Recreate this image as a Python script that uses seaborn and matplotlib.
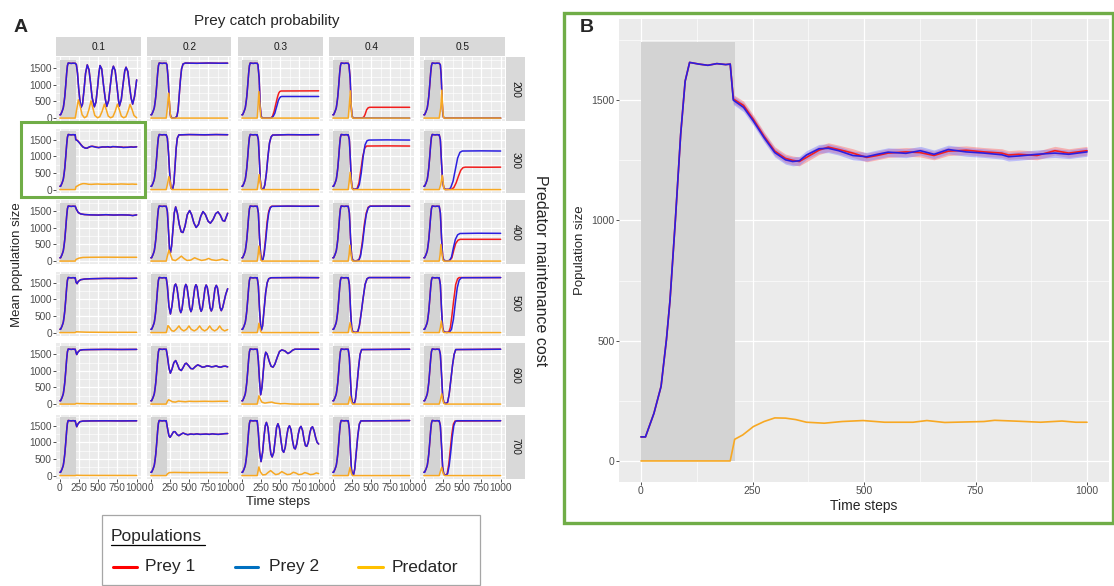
import pandas as pd
import numpy as np
import seaborn as sns
import matplotlib.pyplot as plt
from matplotlib.patches import Rectangle
from matplotlib.lines import Line2D
from matplotlib.ticker import MultipleLocator

sns.set_theme(style="darkgrid")
plt.rcParams["font.family"] = ["Liberation Sans", "DejaVu Sans"]

costs = ["200", "300", "400", "500", "600", "700"]
catches = ["0.1", "0.2", "0.3", "0.4", "0.5"]

# warm-up phase (prey only, predator added at t=200), same for all runs
warm_t = [0, 10, 29, 45, 57, 65, 77, 89, 99, 109, 130, 150, 170, 190, 200]
warm_prey = [100, 100, 198, 310, 504, 667, 1000, 1359, 1579, 1657, 1650, 1645, 1652, 1648, 1650]
warm_pred = [(0, 0), (200, 0)]

# after t=200: (time step, mean population size)
# --- cost 200
p200_1_prey = [(215,1610),(230,1350),(245,900),(260,550),(276,320),(295,420),(315,850),(335,1350),(357,1600),(380,1450),(400,1050),(420,620),(449,340),(470,480),(490,900),(508,1350),(523,1580),(545,1480),(568,1000),(590,600),(610,350),(635,520),(658,1000),(680,1430),(697,1560),(720,1430),(742,1000),(762,560),(775,360),(800,560),(822,1000),(845,1420),(862,1530),(885,1400),(905,1000),(928,600),(948,420),(972,650),(1000,1150)]
p200_1_pred = [(215,200),(241,550),(265,350),(290,100),(320,10),(350,50),(378,250),(406,520),(430,300),(455,80),(490,10),(520,40),(550,200),(580,420),(605,250),(630,60),(660,10),(690,40),(720,200),(749,420),(775,250),(800,60),(830,10),(860,40),(890,220),(914,410),(940,260),(965,80),(1000,10)]
p200_2_prey = [(210,1600),(225,1200),(240,500),(250,150),(260,30),(280,5),(320,10),(340,60),(355,250),(370,700),(385,1150),(400,1480),(420,1630),(450,1655),(600,1648),(750,1656),(900,1650),(1000,1652)]
p200_2_pred = [(215,300),(230,750),(240,600),(250,200),(258,20),(270,0),(1000,0)]
p200_3_prey1 = [(210,1600),(225,1200),(238,400),(250,60),(265,5),(380,5),(400,60),(420,200),(435,350),(450,500),(465,640),(480,750),(495,800),(510,815),(1000,820)]
p200_3_prey2 = [(210,1600),(225,1200),(238,400),(250,60),(265,5),(390,5),(410,60),(430,150),(445,280),(460,400),(475,530),(490,600),(505,640),(520,650),(1000,650)]
p200_3_pred = [(212,400),(222,800),(235,400),(245,50),(255,0),(1000,0)]
p200_4_prey1 = [(210,1600),(225,1200),(238,400),(250,60),(265,5),(385,5),(405,40),(420,110),(440,250),(460,310),(480,325),(1000,325)]
p200_4_prey2 = [(210,1600),(225,1200),(238,400),(250,60),(265,5),(1000,0)]
p200_4_pred = [(215,400),(228,820),(240,300),(250,30),(260,0),(1000,0)]
p200_5_prey = [(215,1600),(225,1300),(235,700),(245,200),(255,30),(270,0),(1000,0)]
p200_5_pred = [(220,300),(234,840),(245,300),(255,30),(265,0),(1000,0)]

# --- cost 300 (0.1 is the run enlarged in panel B)
b_prey1 = [(207,1505),(230,1478),(252,1420),(276,1350),(300,1288),(324,1258),(340,1250),(355,1245),(371,1262),(399,1292),(420,1305),(443,1295),(475,1280),(506,1262),(530,1270),(554,1280),(594,1285),(626,1282),(657,1270),(689,1288),(729,1292),(769,1285),(809,1280),(824,1272),(847,1275),(888,1270),(928,1290),(959,1280),(1000,1290)]
b_prey2 = [(207,1500),(230,1470),(252,1413),(276,1344),(300,1282),(324,1252),(340,1245),(355,1248),(371,1272),(399,1298),(420,1300),(443,1290),(475,1270),(506,1265),(530,1275),(554,1284),(594,1279),(626,1290),(657,1275),(689,1295),(729,1285),(769,1280),(809,1273),(824,1265),(847,1268),(888,1275),(928,1280),(959,1275),(1000,1285)]
b_pred = [(210,90),(228,108),(252,143),(276,164),(300,179),(324,178),(347,172),(371,161),(411,157),(451,164),(498,168),(546,161),(610,161),(641,168),(681,160),(769,164),(793,169),(848,165),(896,161),(944,166),(975,161),(1000,161)]
b_band = 18
p300_2_prey = [(215,1550),(230,1100),(245,500),(258,100),(270,20),(285,30),(300,200),(315,700),(330,1250),(345,1550),(365,1645),(500,1655),(700,1648),(850,1655),(1000,1650)]
p300_2_pred = [(215,150),(235,390),(250,250),(262,50),(275,0),(1000,0)]
p300_3_prey = [(215,1500),(230,800),(240,300),(250,80),(265,10),(285,30),(300,150),(320,500),(340,1000),(360,1400),(380,1580),(400,1640),(600,1652),(800,1648),(1000,1652)]
p300_3_pred = [(213,200),(225,450),(238,250),(250,30),(262,0),(1000,0)]
p300_4_prey1 = [(215,1500),(230,800),(240,300),(250,60),(270,5),(315,30),(340,200),(365,600),(390,1000),(415,1250),(440,1310),(700,1315),(1000,1310)]
p300_4_prey2 = [(215,1500),(230,800),(240,300),(250,60),(270,5),(320,20),(345,150),(370,500),(395,1000),(420,1350),(445,1470),(470,1490),(700,1495),(1000,1490)]
p300_4_pred = [(213,250),(225,520),(238,250),(250,30),(262,0),(1000,0)]
p300_5_prey1 = [(215,1500),(230,800),(245,250),(260,50),(280,5),(360,10),(390,60),(420,200),(450,400),(480,580),(510,660),(540,675),(800,672),(1000,675)]
p300_5_prey2 = [(215,1500),(230,800),(245,250),(260,50),(280,5),(330,10),(350,60),(380,250),(410,600),(440,950),(470,1120),(500,1160),(750,1165),(1000,1160)]
p300_5_pred = [(220,150),(240,430),(252,200),(262,20),(272,0),(1000,0)]

# --- cost 400
p400_1_prey = [(215,1560),(240,1460),(270,1420),(320,1400),(400,1390),(500,1385),(600,1395),(700,1385),(800,1390),(900,1385),(950,1370),(1000,1390)]
p400_1_pred = [(210,50),(250,90),(300,110),(400,115),(600,118),(800,115),(1000,115)]
p400_2_prey = [(215,1500),(230,900),(245,300),(255,250),(270,450),(290,1000),(305,1450),(323,1630),(345,1450),(370,1100),(395,880),(418,860),(445,1050),(475,1400),(505,1520),(530,1400),(560,1150),(590,1010),(620,1100),(650,1350),(679,1490),(710,1400),(745,1200),(775,1140),(810,1250),(845,1430),(874,1480),(905,1380),(935,1220),(961,1200),(1000,1440)]
p400_2_pred = [(215,150),(236,330),(255,200),(280,40),(320,15),(360,80),(397,150),(430,80),(470,20),(520,30),(570,100),(610,60),(660,20),(710,40),(753,80),(790,40),(850,20),(900,40),(931,60),(970,30),(1000,20)]
p400_3_prey1 = [(215,1450),(230,700),(245,200),(258,30),(275,60),(290,260),(310,700),(330,1200),(350,1500),(370,1620),(390,1650),(1000,1650)]
p400_3_prey2 = [(215,1450),(230,700),(245,200),(258,30),(275,50),(290,200),(310,600),(330,1100),(350,1450),(370,1600),(390,1645),(600,1655),(800,1648),(1000,1652)]
p400_3_pred = [(212,200),(222,450),(235,250),(248,30),(260,0),(1000,0)]
p400_4_prey1 = [(215,1450),(230,700),(245,150),(260,20),(300,5),(340,40),(360,200),(385,600),(410,1100),(435,1450),(460,1620),(485,1655),(1000,1655)]
p400_4_prey2 = [(215,1450),(230,700),(245,150),(260,20),(300,5),(340,30),(360,150),(385,500),(410,1000),(435,1400),(460,1600),(485,1650),(700,1655),(1000,1650)]
p400_4_pred = [(212,200),(222,480),(235,250),(248,30),(260,0),(1000,0)]
p400_5_prey1 = [(215,1450),(230,700),(245,150),(260,20),(300,5),(335,15),(365,100),(390,330),(415,530),(445,630),(475,655),(1000,655)]
p400_5_prey2 = [(215,1450),(230,700),(245,150),(260,20),(300,5),(335,20),(360,120),(385,400),(410,650),(440,790),(470,830),(700,838),(1000,835)]
p400_5_pred = [(212,200),(222,500),(235,250),(248,30),(260,0),(1000,0)]

# --- cost 500
p500_1_prey = [(210,1520),(225,1470),(240,1540),(270,1590),(320,1610),(400,1620),(500,1625),(600,1630),(700,1628),(800,1632),(900,1630),(1000,1635)]
p500_1_pred = [(215,25),(250,20),(350,12),(600,8),(1000,8)]
p500_2_prey = [(215,1400),(235,800),(255,560),(275,800),(295,1200),(310,1420),(323,1460),(340,1350),(360,1000),(375,700),(390,600),(405,700),(425,1050),(440,1350),(455,1450),(470,1380),(490,1050),(505,750),(522,630),(537,720),(555,1050),(572,1350),(587,1440),(602,1370),(620,1050),(640,740),(655,640),(670,720),(690,1050),(705,1330),(720,1430),(735,1360),(755,1050),(770,750),(787,650),(802,730),(820,1050),(835,1330),(852,1420),(867,1350),(885,1050),(900,760),(917,660),(935,750),(955,950),(975,1150),(1000,1320)]
p500_2_pred = [(210,80),(223,210),(245,150),(270,60),(300,40),(330,100),(366,200),(395,100),(430,50),(465,100),(496,200),(525,100),(565,50),(600,100),(635,200),(665,100),(700,50),(735,100),(766,200),(795,100),(830,50),(865,100),(896,200),(925,100),(960,50),(1000,90)]
p500_3_prey = [(215,1400),(230,700),(245,200),(255,80),(270,200),(290,700),(310,1200),(330,1500),(350,1620),(380,1650),(700,1655),(1000,1652)]
p500_3_pred = [(212,120),(222,280),(235,150),(248,20),(260,0),(1000,0)]
p500_4_prey = [(215,1450),(230,700),(245,150),(260,20),(300,5),(325,30),(345,200),(370,600),(395,1050),(420,1450),(445,1620),(470,1655),(1000,1655)]
p500_4_pred = [(212,150),(225,300),(238,150),(250,20),(262,0),(1000,0)]
p500_5_prey1 = [(215,1450),(230,700),(245,150),(260,20),(300,5),(325,20),(345,150),(365,500),(390,1000),(415,1450),(440,1620),(460,1655),(1000,1655)]
p500_5_prey2 = [(215,1450),(230,700),(245,150),(260,20),(300,5),(335,15),(360,100),(385,400),(410,900),(435,1350),(460,1580),(490,1650),(1000,1655)]
p500_5_pred = [(215,150),(228,350),(240,150),(252,20),(265,0),(1000,0)]

# --- cost 600
p600_1_prey = [(210,1560),(220,1490),(235,1560),(260,1620),(300,1635),(400,1640),(600,1645),(800,1642),(1000,1645)]
p600_1_pred = [(215,20),(250,15),(400,8),(1000,5)]
p600_2_prey = [(215,1450),(235,1100),(254,930),(275,1050),(300,1250),(323,1310),(345,1200),(370,1050),(397,1010),(420,1100),(445,1210),(462,1230),(490,1160),(520,1070),(549,1060),(580,1130),(610,1180),(640,1150),(670,1110),(700,1120),(730,1150),(760,1140),(790,1120),(820,1130),(850,1150),(880,1120),(910,1110),(940,1135),(970,1140),(1000,1120)]
p600_2_pred = [(215,80),(230,130),(250,110),(280,70),(320,60),(360,90),(400,80),(450,70),(500,85),(550,80),(600,80),(700,85),(800,80),(900,85),(1000,85)]
p600_3_prey = [(215,1300),(230,700),(245,280),(262,500),(280,1000),(296,1400),(311,1560),(330,1500),(355,1300),(380,1140),(406,1110),(430,1200),(460,1400),(490,1580),(520,1630),(560,1600),(600,1520),(630,1560),(660,1620),(690,1650),(1000,1650)]
p600_3_pred = [(210,100),(222,250),(240,150),(260,60),(300,30),(350,50),(390,60),(430,30),(500,10),(560,15),(620,5),(700,0),(1000,0)]
p600_4_prey = [(215,1400),(230,700),(242,200),(255,40),(280,20),(295,150),(315,600),(335,1100),(355,1500),(375,1640),(1000,1650)]
p600_4_pred = [(212,120),(225,230),(240,80),(255,0),(1000,0)]
p600_5_prey = [(215,1500),(230,900),(245,250),(260,50),(290,10),(310,60),(330,300),(350,700),(375,1200),(395,1500),(415,1640),(1000,1650)]
p600_5_pred = [(215,120),(233,310),(245,150),(260,20),(275,0),(1000,0)]

# --- cost 700
p700_1_prey = [(210,1550),(220,1470),(235,1550),(260,1620),(300,1640),(400,1645),(600,1648),(800,1645),(1000,1648)]
p700_1_pred = [(215,10),(300,5),(1000,3)]
p700_2_prey = [(215,1450),(235,1200),(250,1150),(270,1220),(295,1320),(315,1320),(340,1240),(365,1200),(390,1240),(420,1280),(450,1250),(480,1230),(520,1250),(560,1240),(600,1255),(640,1240),(680,1245),(720,1250),(760,1240),(800,1255),(840,1245),(880,1240),(920,1250),(960,1260),(1000,1265)]
p700_2_pred = [(215,50),(240,90),(300,95),(500,90),(800,92),(1000,90)]
p700_3_prey = [(215,1300),(232,700),(250,420),(270,700),(290,1200),(305,1500),(320,1600),(340,1450),(360,1000),(378,650),(395,560),(415,700),(435,1100),(452,1450),(470,1560),(490,1420),(510,1050),(528,760),(545,700),(565,850),(585,1200),(602,1420),(620,1500),(640,1380),(660,1050),(678,840),(695,800),(715,950),(735,1250),(752,1420),(770,1480),(790,1360),(810,1080),(828,900),(845,880),(865,1000),(885,1280),(902,1430),(920,1470),(940,1350),(960,1150),(980,1000),(1000,950)]
p700_3_pred = [(210,120),(222,260),(240,120),(270,20),(310,30),(345,100),(375,150),(405,90),(440,30),(480,50),(520,120),(550,80),(590,30),(630,40),(670,100),(700,80),(740,30),(780,40),(820,90),(850,70),(890,30),(930,40),(970,80),(1000,60)]
p700_4_prey = [(215,1400),(230,700),(242,200),(255,40),(270,30),(285,200),(305,700),(325,1200),(345,1550),(365,1645),(1000,1655)]
p700_4_pred = [(212,120),(225,250),(240,80),(255,0),(1000,0)]
p700_5_prey1 = [(215,1500),(230,900),(245,250),(260,40),(290,10),(305,70),(325,350),(345,800),(365,1250),(385,1550),(405,1640),(1000,1650)]
p700_5_prey2 = [(215,1500),(230,900),(245,250),(260,40),(290,10),(310,60),(330,300),(350,700),(370,1150),(390,1500),(410,1630),(430,1650),(1000,1650)]
p700_5_pred = [(215,120),(233,250),(245,120),(260,20),(275,0),(1000,0)]

# (prey 1, prey 2, predator) for each facet
panels = {
    ("200","0.1"): (p200_1_prey, p200_1_prey, p200_1_pred),
    ("200","0.2"): (p200_2_prey, p200_2_prey, p200_2_pred),
    ("200","0.3"): (p200_3_prey1, p200_3_prey2, p200_3_pred),
    ("200","0.4"): (p200_4_prey1, p200_4_prey2, p200_4_pred),
    ("200","0.5"): (p200_5_prey, p200_5_prey, p200_5_pred),
    ("300","0.1"): (b_prey1, b_prey2, b_pred),
    ("300","0.2"): (p300_2_prey, p300_2_prey, p300_2_pred),
    ("300","0.3"): (p300_3_prey, p300_3_prey, p300_3_pred),
    ("300","0.4"): (p300_4_prey1, p300_4_prey2, p300_4_pred),
    ("300","0.5"): (p300_5_prey1, p300_5_prey2, p300_5_pred),
    ("400","0.1"): (p400_1_prey, p400_1_prey, p400_1_pred),
    ("400","0.2"): (p400_2_prey, p400_2_prey, p400_2_pred),
    ("400","0.3"): (p400_3_prey1, p400_3_prey2, p400_3_pred),
    ("400","0.4"): (p400_4_prey1, p400_4_prey2, p400_4_pred),
    ("400","0.5"): (p400_5_prey1, p400_5_prey2, p400_5_pred),
    ("500","0.1"): (p500_1_prey, p500_1_prey, p500_1_pred),
    ("500","0.2"): (p500_2_prey, p500_2_prey, p500_2_pred),
    ("500","0.3"): (p500_3_prey, p500_3_prey, p500_3_pred),
    ("500","0.4"): (p500_4_prey, p500_4_prey, p500_4_pred),
    ("500","0.5"): (p500_5_prey1, p500_5_prey2, p500_5_pred),
    ("600","0.1"): (p600_1_prey, p600_1_prey, p600_1_pred),
    ("600","0.2"): (p600_2_prey, p600_2_prey, p600_2_pred),
    ("600","0.3"): (p600_3_prey, p600_3_prey, p600_3_pred),
    ("600","0.4"): (p600_4_prey, p600_4_prey, p600_4_pred),
    ("600","0.5"): (p600_5_prey, p600_5_prey, p600_5_pred),
    ("700","0.1"): (p700_1_prey, p700_1_prey, p700_1_pred),
    ("700","0.2"): (p700_2_prey, p700_2_prey, p700_2_pred),
    ("700","0.3"): (p700_3_prey, p700_3_prey, p700_3_pred),
    ("700","0.4"): (p700_4_prey, p700_4_prey, p700_4_pred),
    ("700","0.5"): (p700_5_prey1, p700_5_prey2, p700_5_pred),
}

pops = ["Prey 1", "Prey 2", "Predator"]
line_col = {"Prey 1": "#f21d1d", "Prey 2": "#2b1fe0", "Predator": "#f7a823"}
legend_col = ["#ff0000", "#0070c0", "#ffc000"]

warm_prey_pts = list(zip(warm_t, warm_prey))


def build(prey1, prey2, pred):
    rows = []
    for name, pts, warm in zip(pops, (prey1, prey2, pred), (warm_prey_pts, warm_prey_pts, warm_pred)):
        for t, n in warm + pts:
            rows.append((name, t, n))
    return pd.DataFrame(rows, columns=["pop", "t", "n"])


W, H = 1114, 586


def rect(x, y, w, h):
    return [x / W, 1 - (y + h) / H, w / W, h / H]


def gg_axes(ax, fs):
    ax.set_facecolor("#ebebeb")
    for s in ax.spines.values():
        s.set_visible(False)
    ax.set_xlim(-50, 1050)
    ax.set_ylim(-87.5, 1837.5)
    ax.set_xticks([0, 250, 500, 750, 1000])
    ax.set_yticks([0, 500, 1000, 1500])
    ax.xaxis.set_minor_locator(MultipleLocator(125))
    ax.yaxis.set_minor_locator(MultipleLocator(250))
    ax.grid(which="major", color="white", lw=0.9)
    ax.grid(which="minor", color="white", lw=0.45)
    ax.set_axisbelow(True)
    ax.tick_params(which="major", length=2, width=0.6, color="#333333",
                   labelsize=fs, labelcolor="#4d4d4d", pad=1,
                   bottom=True, left=True)
    ax.tick_params(which="minor", length=0)
    ax.set_xlabel("")
    ax.set_ylabel("")


fig = plt.figure(figsize=(W / 100, H / 100), dpi=100)

# ---- panel A: facet grid
for j, cost in enumerate(costs):
    for i, pc in enumerate(catches):
        ax = fig.add_axes(rect(56 + 91 * i, 57 + 71.5 * j, 84.5, 64))
        gg_axes(ax, 7.3)
        ax.add_patch(Rectangle((0, 0), 210, 1750, color="#d3d3d3", lw=0, zorder=1))
        df = build(*panels[(cost, pc)])
        sns.lineplot(data=df, x="t", y="n", hue="pop", hue_order=pops,
                     palette=line_col, lw=1.1, errorbar=None, legend=False, ax=ax)
        ax.set_xlabel("")
        ax.set_ylabel("")
        ax.set_xticklabels(["0", "250", "500", "750", "1000"] if j == 5 else [])
        ax.set_yticklabels(["0", "500", "1000", "1500"] if i == 0 else [])
        if j != 5:
            ax.tick_params(axis="x", length=0)
        if i != 0:
            ax.tick_params(axis="y", length=0)

# strips
for i, pc in enumerate(catches):
    sx = fig.add_axes(rect(56 + 91 * i, 37, 84.5, 19))
    sx.set_facecolor("#d9d9d9")
    sx.set_xticks([]); sx.set_yticks([]); sx.grid(False)
    for s in sx.spines.values():
        s.set_visible(False)
    sx.text(0.5, 0.5, pc, ha="center", va="center", fontsize=7.3, color="#1a1a1a", transform=sx.transAxes)
for j, cost in enumerate(costs):
    sy = fig.add_axes(rect(506, 57 + 71.5 * j, 19, 64))
    sy.set_facecolor("#d9d9d9")
    sy.set_xticks([]); sy.set_yticks([]); sy.grid(False)
    for s in sy.spines.values():
        s.set_visible(False)
    sy.text(0.5, 0.5, cost, ha="center", va="center", rotation=-90, fontsize=7.3, color="#1a1a1a", transform=sy.transAxes)

fig.text(14 / W, 1 - 27 / H, "A", fontsize=14, fontweight="bold", va="center")
fig.text(267 / W, 1 - 21 / H, "Prey catch probability", fontsize=11, ha="center", va="center")
fig.text(540 / W, 1 - 271 / H, "Predator maintenance cost", fontsize=11.5, rotation=-90, ha="center", va="center")
fig.text(17 / W, 1 - 265 / H, "Mean population size", fontsize=9.5, rotation=90, ha="center", va="center")
fig.text(278 / W, 1 - 502 / H, "Time steps", fontsize=9.5, ha="center", va="center")

# green box around the enlarged run
fig.add_artist(Rectangle((20.7 / W, 1 - 196.7 / H), 124.3 / W, 74.4 / H, transform=fig.transFigure,
                         fill=False, ec="#70ad47", lw=2.2))

# ---- legend box
fig.add_artist(Rectangle((101.7 / W, 1 - 585 / H), 378.3 / W, 70 / H, transform=fig.transFigure,
                         fill=False, ec="#a6a6a6", lw=0.9))
fig.text(110.7 / W, 1 - 541 / H, "Populations", fontsize=12.5, va="baseline")
fig.add_artist(Line2D([110.7 / W, 205 / W], [1 - 544.5 / H, 1 - 544.5 / H], transform=fig.transFigure,
                      color="black", lw=0.9))
for (x0, x1, xt), name, c in zip([(113, 137, 145), (235, 258, 269), (358, 383, 392)], pops, legend_col):
    fig.add_artist(Line2D([x0 / W, x1 / W], [1 - 567 / H, 1 - 567 / H], transform=fig.transFigure,
                          color=c, lw=2.2))
    fig.text(xt / W, 1 - 567 / H, name, fontsize=12.5, va="center")

# ---- panel B: enlarged run (cost 300, catch 0.1)
axb = fig.add_axes(rect(618.7, 19, 490.6, 463))
gg_axes(axb, 7.5)
axb.add_patch(Rectangle((0, 0), 210, 1740, color="#d3d3d3", lw=0, zorder=1))
dfb = build(b_prey1, b_prey2, b_pred)
for name, c in (("Prey 1", "#ff6b6b"), ("Prey 2", "#7b7bff")):
    sub = dfb[(dfb["pop"] == name) & (dfb["t"] >= 200)]
    axb.fill_between(sub["t"], sub["n"] - b_band, sub["n"] + b_band, color=c, alpha=0.45, lw=0, zorder=2)
sns.lineplot(data=dfb, x="t", y="n", hue="pop", hue_order=pops,
             palette=line_col, lw=1.2, errorbar=None, legend=False, ax=axb)
axb.set_xticklabels(["0", "250", "500", "750", "1000"])
axb.set_yticklabels(["0", "500", "1000", "1500"])
axb.set_xlabel("Time steps", fontsize=10, labelpad=2)
axb.set_ylabel("Population size", fontsize=9.5, labelpad=4)

fig.text(580 / W, 1 - 27 / H, "B", fontsize=14, fontweight="bold", va="center")
fig.add_artist(Rectangle((564 / W, 1 - 523 / H), 549 / W, 510 / H, transform=fig.transFigure,
                         fill=False, ec="#70ad47", lw=2.4))

fig.savefig("out.png", dpi=100)
